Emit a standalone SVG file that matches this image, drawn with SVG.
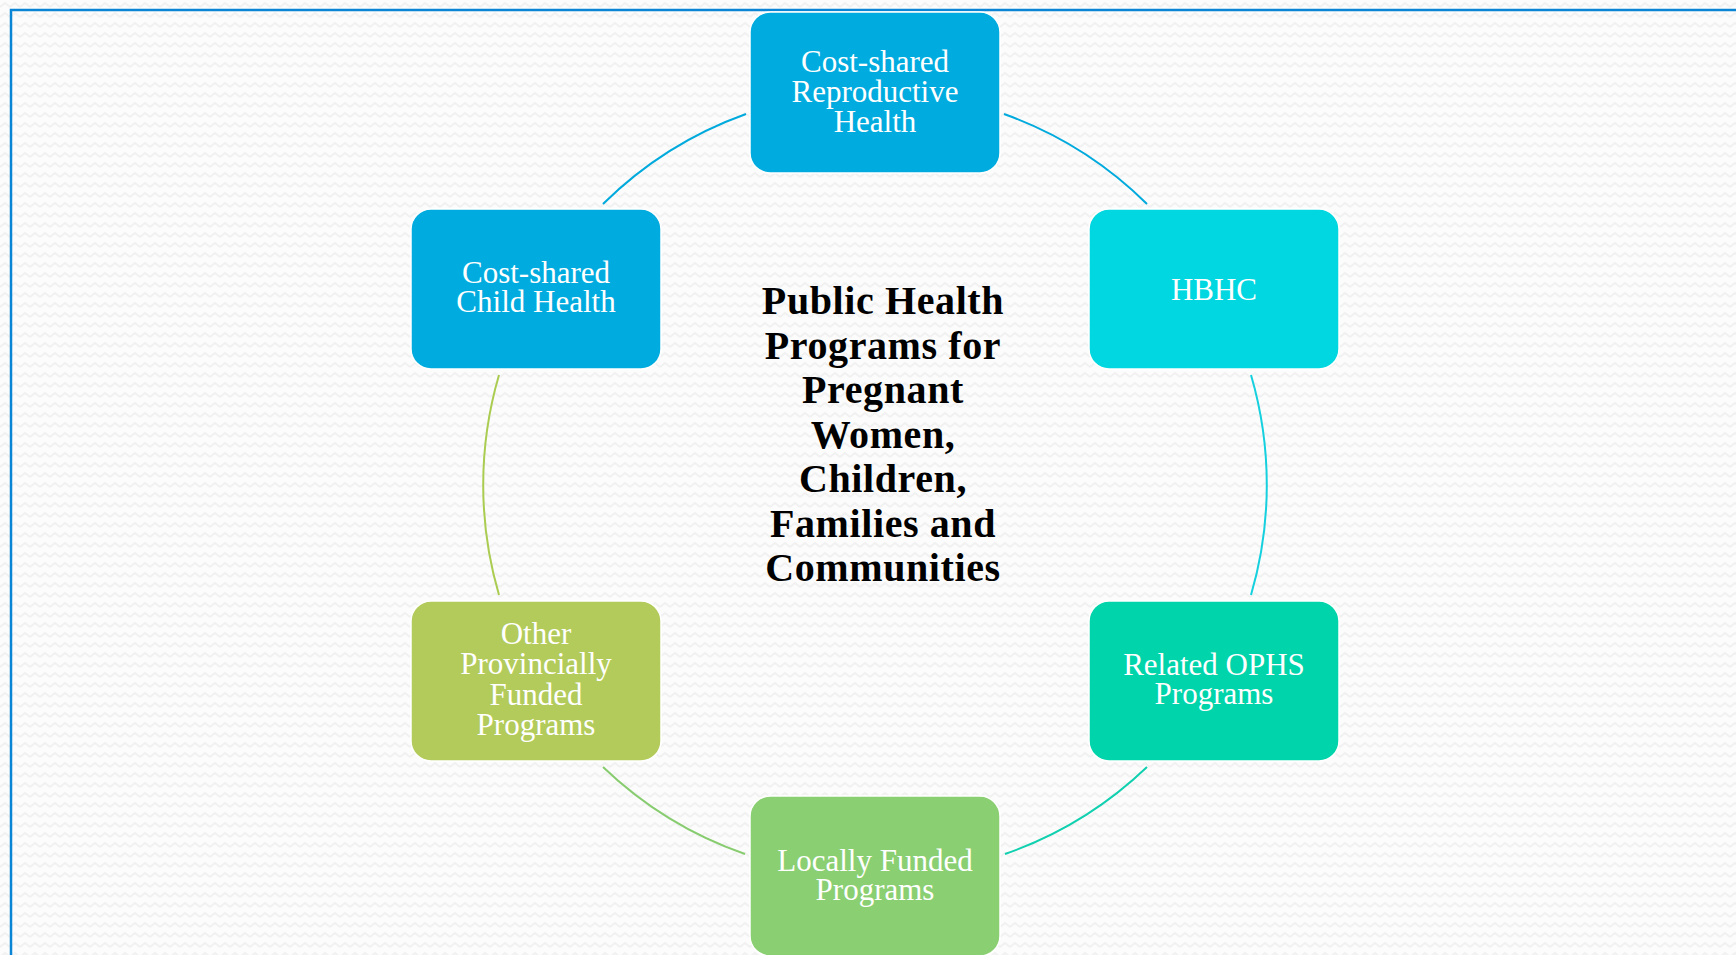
<svg xmlns="http://www.w3.org/2000/svg" width="1736" height="955" viewBox="0 0 1736 955">
  <defs>
    <pattern id="bg" width="10" height="10" patternUnits="userSpaceOnUse">
      <rect width="10" height="10" fill="#fcfcfc"/>
      <polyline points="0,7 5,3 10,7" fill="none" stroke="#f1f1f1" stroke-width="2"/>
    </pattern>
  </defs>
  <style>
    .node rect { stroke: #ffffff; stroke-width: 1.5; }
    .node text { font-family: "Liberation Serif", "Times New Roman", serif; font-size: 31px; fill: #ffffff; text-anchor: middle; }
    .center text { font-family: "Liberation Serif", "Times New Roman", serif; font-size: 40px; letter-spacing: 0.6px; font-weight: bold; fill: #000000; text-anchor: middle; }
    .arc { fill: none; stroke-width: 2; }
  </style>
  <rect width="1736" height="955" fill="url(#bg)"/>
  <path d="M11,955 V10 H1736" fill="none" stroke="#0a84d4" stroke-width="2.5"/>

  <g id="connectors">
    <path class="arc" stroke="#00aadd" d="M1004,114 A391,391 0 0 1 1147,204"/>
    <path class="arc" stroke="#15d0de" d="M1251,375 A391,391 0 0 1 1251,595"/>
    <path class="arc" stroke="#10d0b0" d="M1147,767 A391,391 0 0 1 1005,854"/>
    <path class="arc" stroke="#88cc70" d="M745,854 A391,391 0 0 1 603,767"/>
    <path class="arc" stroke="#aacc50" d="M499,595 A391,391 0 0 1 499,375"/>
    <path class="arc" stroke="#00aadd" d="M603,204 A391,391 0 0 1 746,114"/>
  </g>

  <g id="center" class="center">
    <text x="883" y="314">Public Health</text>
    <text x="883" y="358.5">Programs for</text>
    <text x="883" y="403">Pregnant</text>
    <text x="883" y="447.5">Women,</text>
    <text x="883" y="492">Children,</text>
    <text x="883" y="536.5">Families and</text>
    <text x="883" y="581">Communities</text>
  </g>

  <g id="node-reproductive" class="node">
    <rect x="750" y="12" width="250" height="161" rx="20" fill="#00acdf"/>
    <text x="875" y="72">Cost-shared</text>
    <text x="875" y="102">Reproductive</text>
    <text x="875" y="132">Health</text>
  </g>

  <g id="node-hbhc" class="node">
    <rect x="1089" y="209" width="250" height="160" rx="20" fill="#00d7e0"/>
    <text x="1214" y="300">HBHC</text>
  </g>

  <g id="node-ophs" class="node">
    <rect x="1089" y="601" width="250" height="160" rx="20" fill="#00d4ab"/>
    <text x="1214" y="675">Related OPHS</text>
    <text x="1214" y="704">Programs</text>
  </g>

  <g id="node-locally" class="node">
    <rect x="750" y="796" width="250" height="160" rx="20" fill="#8bcf73"/>
    <text x="875" y="871">Locally Funded</text>
    <text x="875" y="900">Programs</text>
  </g>

  <g id="node-provincial" class="node">
    <rect x="411" y="601" width="250" height="160" rx="20" fill="#b3cb5a"/>
    <text x="536" y="644">Other</text>
    <text x="536" y="674">Provincially</text>
    <text x="536" y="705">Funded</text>
    <text x="536" y="735">Programs</text>
  </g>

  <g id="node-child" class="node">
    <rect x="411" y="209" width="250" height="160" rx="20" fill="#00acdf"/>
    <text x="536" y="283">Cost-shared</text>
    <text x="536" y="312">Child Health</text>
  </g>
</svg>
